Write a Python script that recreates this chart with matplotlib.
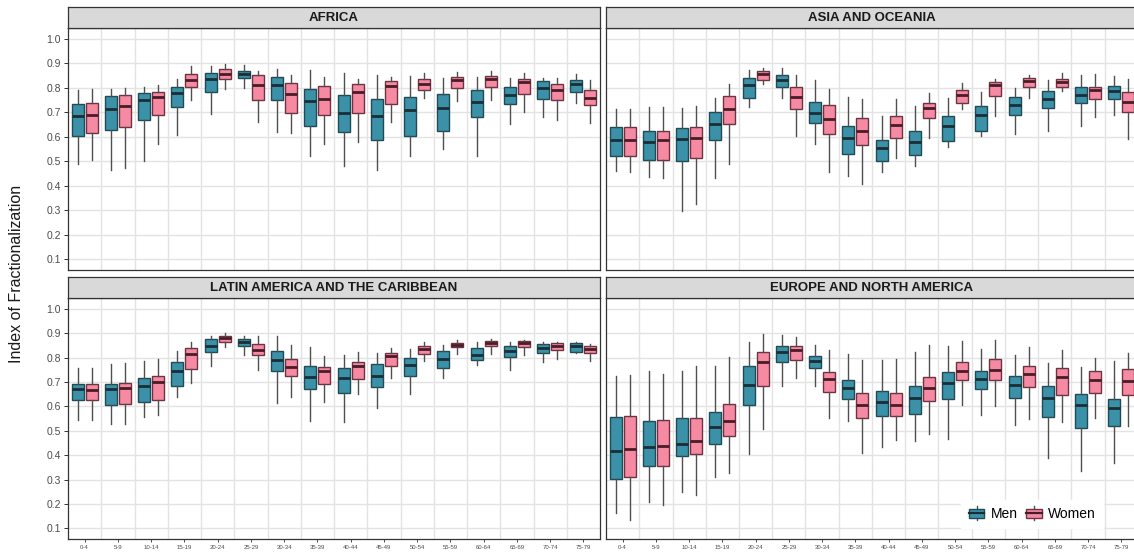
import numpy as np
import matplotlib
matplotlib.use("Agg")
import matplotlib.pyplot as plt
from matplotlib.patches import Rectangle
from matplotlib.lines import Line2D
from matplotlib.legend_handler import HandlerBase

plt.rcParams['font.family'] = ['Liberation Sans', 'DejaVu Sans']

ages = ['0-4', '5-9', '10-14', '15-19', '20-24', '25-29', '30-34', '35-39',
        '40-44', '45-49', '50-54', '55-59', '60-64', '65-69', '70-74', '75-79']
regions = ['AFRICA', 'ASIA AND OCEANIA',
           'LATIN AMERICA AND THE CARIBBEAN', 'EUROPE AND NORTH AMERICA']

# (lower whisker, Q1, median, Q3, upper whisker) for each age group
africa_men = [
    (0.489, 0.604, 0.683, 0.736, 0.791), (0.466, 0.629, 0.713, 0.767, 0.794),
    (0.499, 0.667, 0.751, 0.780, 0.805), (0.607, 0.722, 0.780, 0.802, 0.837),
    (0.695, 0.785, 0.837, 0.859, 0.889), (0.801, 0.840, 0.856, 0.869, 0.894),
    (0.618, 0.749, 0.810, 0.844, 0.878), (0.523, 0.644, 0.745, 0.797, 0.873),
    (0.482, 0.618, 0.699, 0.770, 0.862), (0.466, 0.588, 0.686, 0.756, 0.851),
    (0.520, 0.604, 0.710, 0.764, 0.848), (0.550, 0.622, 0.717, 0.774, 0.841),
    (0.523, 0.682, 0.744, 0.793, 0.846), (0.652, 0.736, 0.771, 0.805, 0.841),
    (0.680, 0.756, 0.801, 0.828, 0.841), (0.737, 0.785, 0.817, 0.832, 0.855)]
africa_women = [
    (0.505, 0.614, 0.690, 0.738, 0.794), (0.472, 0.642, 0.724, 0.771, 0.801),
    (0.570, 0.688, 0.763, 0.785, 0.813), (0.751, 0.802, 0.832, 0.856, 0.889),
    (0.797, 0.837, 0.855, 0.877, 0.897), (0.659, 0.751, 0.810, 0.852, 0.871),
    (0.614, 0.699, 0.774, 0.821, 0.852), (0.570, 0.688, 0.756, 0.808, 0.844),
    (0.580, 0.699, 0.783, 0.816, 0.835), (0.659, 0.736, 0.808, 0.828, 0.846),
    (0.757, 0.791, 0.817, 0.837, 0.859), (0.747, 0.798, 0.832, 0.844, 0.866),
    (0.749, 0.805, 0.835, 0.850, 0.869), (0.702, 0.775, 0.824, 0.837, 0.862),
    (0.669, 0.749, 0.790, 0.816, 0.841), (0.656, 0.732, 0.760, 0.790, 0.831)]

asia_men = [
    (0.462, 0.523, 0.588, 0.638, 0.713), (0.435, 0.503, 0.577, 0.622, 0.722),
    (0.297, 0.499, 0.591, 0.634, 0.718), (0.431, 0.588, 0.653, 0.702, 0.760),
    (0.722, 0.759, 0.812, 0.841, 0.875), (0.759, 0.805, 0.831, 0.852, 0.882),
    (0.569, 0.656, 0.696, 0.743, 0.832), (0.439, 0.528, 0.593, 0.645, 0.764),
    (0.455, 0.500, 0.554, 0.585, 0.683), (0.482, 0.526, 0.577, 0.625, 0.726),
    (0.560, 0.581, 0.645, 0.686, 0.757), (0.604, 0.623, 0.688, 0.724, 0.785),
    (0.611, 0.688, 0.729, 0.764, 0.799), (0.625, 0.717, 0.756, 0.787, 0.832),
    (0.645, 0.738, 0.772, 0.802, 0.854), (0.688, 0.753, 0.789, 0.808, 0.848)]
asia_women = [
    (0.455, 0.523, 0.588, 0.640, 0.713), (0.431, 0.503, 0.585, 0.625, 0.722),
    (0.324, 0.512, 0.593, 0.640, 0.726), (0.489, 0.653, 0.713, 0.767, 0.817),
    (0.816, 0.833, 0.855, 0.870, 0.882), (0.602, 0.715, 0.764, 0.802, 0.854),
    (0.455, 0.610, 0.672, 0.732, 0.794), (0.407, 0.566, 0.623, 0.675, 0.756),
    (0.512, 0.596, 0.650, 0.686, 0.753), (0.596, 0.675, 0.717, 0.740, 0.780),
    (0.713, 0.738, 0.771, 0.793, 0.821), (0.686, 0.767, 0.812, 0.825, 0.837),
    (0.759, 0.805, 0.828, 0.839, 0.852), (0.787, 0.804, 0.824, 0.835, 0.859),
    (0.680, 0.756, 0.790, 0.805, 0.856), (0.591, 0.703, 0.744, 0.783, 0.837)]

latam_men = [
    (0.545, 0.625, 0.670, 0.692, 0.758), (0.530, 0.605, 0.673, 0.692, 0.774),
    (0.555, 0.618, 0.686, 0.715, 0.788), (0.638, 0.685, 0.747, 0.782, 0.826),
    (0.764, 0.822, 0.848, 0.877, 0.890), (0.811, 0.847, 0.863, 0.878, 0.890),
    (0.616, 0.744, 0.790, 0.829, 0.888), (0.542, 0.671, 0.721, 0.767, 0.844),
    (0.538, 0.656, 0.715, 0.758, 0.812), (0.593, 0.678, 0.727, 0.774, 0.819),
    (0.651, 0.725, 0.771, 0.799, 0.837), (0.716, 0.756, 0.796, 0.826, 0.852),
    (0.770, 0.792, 0.810, 0.840, 0.863), (0.751, 0.803, 0.829, 0.847, 0.863),
    (0.782, 0.819, 0.838, 0.855, 0.866), (0.818, 0.823, 0.847, 0.860, 0.864)]
latam_women = [
    (0.545, 0.625, 0.666, 0.692, 0.758), (0.530, 0.610, 0.674, 0.695, 0.778),
    (0.566, 0.625, 0.699, 0.725, 0.795), (0.696, 0.753, 0.815, 0.840, 0.866),
    (0.842, 0.864, 0.879, 0.890, 0.901), (0.751, 0.811, 0.830, 0.856, 0.890),
    (0.638, 0.725, 0.762, 0.796, 0.852), (0.619, 0.692, 0.745, 0.762, 0.808),
    (0.652, 0.714, 0.767, 0.781, 0.823), (0.715, 0.768, 0.805, 0.819, 0.840),
    (0.785, 0.815, 0.837, 0.848, 0.863), (0.816, 0.842, 0.853, 0.862, 0.873),
    (0.814, 0.847, 0.860, 0.868, 0.877), (0.810, 0.842, 0.860, 0.867, 0.873),
    (0.796, 0.832, 0.848, 0.860, 0.864), (0.785, 0.818, 0.834, 0.847, 0.856)]

europe_men = [
    (0.164, 0.301, 0.419, 0.556, 0.726), (0.210, 0.356, 0.434, 0.541, 0.747),
    (0.249, 0.397, 0.447, 0.551, 0.747), (0.312, 0.448, 0.514, 0.577, 0.768),
    (0.405, 0.605, 0.688, 0.764, 0.866), (0.685, 0.784, 0.825, 0.847, 0.895),
    (0.685, 0.756, 0.786, 0.808, 0.852), (0.541, 0.629, 0.675, 0.710, 0.816),
    (0.434, 0.559, 0.619, 0.664, 0.790), (0.458, 0.570, 0.634, 0.685, 0.823),
    (0.468, 0.632, 0.695, 0.740, 0.848), (0.566, 0.673, 0.712, 0.747, 0.834),
    (0.522, 0.634, 0.689, 0.725, 0.812), (0.390, 0.556, 0.634, 0.684, 0.777),
    (0.334, 0.512, 0.604, 0.652, 0.763), (0.367, 0.521, 0.592, 0.632, 0.785)]
europe_women = [
    (0.134, 0.310, 0.425, 0.559, 0.729), (0.196, 0.356, 0.436, 0.545, 0.733),
    (0.237, 0.405, 0.460, 0.553, 0.767), (0.329, 0.479, 0.541, 0.611, 0.801),
    (0.507, 0.685, 0.784, 0.823, 0.899), (0.718, 0.792, 0.830, 0.847, 0.885),
    (0.552, 0.660, 0.712, 0.742, 0.830), (0.410, 0.552, 0.608, 0.656, 0.792),
    (0.462, 0.559, 0.605, 0.655, 0.795), (0.488, 0.621, 0.675, 0.721, 0.852),
    (0.604, 0.708, 0.747, 0.782, 0.870), (0.600, 0.708, 0.749, 0.793, 0.874),
    (0.548, 0.678, 0.734, 0.768, 0.845), (0.536, 0.645, 0.721, 0.756, 0.830),
    (0.551, 0.656, 0.710, 0.747, 0.799), (0.518, 0.649, 0.705, 0.752, 0.821)]

panel_data = [(africa_men, africa_women), (asia_men, asia_women),
              (latam_men, latam_women), (europe_men, europe_women)]

MEN_FILL, MEN_EDGE, MEN_MED = '#3b92a8', '#1f4a56', '#1b2e35'
WOMEN_FILL, WOMEN_EDGE, WOMEN_MED = '#f78aa3', '#6e3342', '#4a1c28'
WHISKER = '#4f4f4f'
FRAME = '#333333'

W, H = 1134, 553
fig = plt.figure(figsize=(W / 100, H / 100), dpi=100)


def px_rect(left, top, right, bottom):
    return [left / W, 1 - bottom / H, (right - left) / W, (bottom - top) / H]


# panel boxes in pixels: (left, strip_top, panel_top, right, panel_bottom)
layout = [(68, 7, 28, 600, 270), (606, 7, 28, 1138, 270),
          (68, 277, 298, 600, 539.3), (606, 277, 298, 1138, 539.3)]


def to_stats(rows):
    return [dict(whislo=r[0], q1=r[1], med=r[2], q3=r[3], whishi=r[4], fliers=[])
            for r in rows]


x = np.arange(len(ages))
axes = []
for k, (l, st, pt, r, pb) in enumerate(layout):
    ax = fig.add_axes(px_rect(l, pt, r, pb))
    axes.append(ax)
    men, women = panel_data[k]
    for rows, off, fc, ec, mc in [(men, -0.21, MEN_FILL, MEN_EDGE, MEN_MED),
                                  (women, 0.21, WOMEN_FILL, WOMEN_EDGE, WOMEN_MED)]:
        ax.bxp(to_stats(rows), positions=x + off, widths=0.36, patch_artist=True,
               showcaps=False, showfliers=False, manage_ticks=False,
               boxprops=dict(facecolor=fc, edgecolor=ec, linewidth=1.0),
               medianprops=dict(color=mc, linewidth=2.0, solid_capstyle='butt'),
               whiskerprops=dict(color=WHISKER, linewidth=1.0))

    ax.set_xlim(-0.5, 15.5)
    ax.set_ylim(0.055, 1.045)
    ax.set_yticks(np.arange(0.1, 1.01, 0.1))
    ax.set_xticks(x)
    ax.set_xticks(np.arange(0.5, 15, 1), minor=True)
    ax.set_axisbelow(True)
    ax.grid(axis='y', which='major', color='#e3e3e3', linewidth=1.0)
    ax.grid(axis='x', which='minor', color='#e3e3e3', linewidth=1.0)
    ax.tick_params(axis='x', which='minor', length=0)
    for s in ax.spines.values():
        s.set_color(FRAME)
        s.set_linewidth(0.9)

    if k % 2 == 0:
        ax.set_yticklabels(['%.1f' % v for v in np.arange(0.1, 1.01, 0.1)])
        ax.tick_params(axis='y', length=3, width=0.7, color=FRAME,
                       labelsize=7.5, labelcolor='#4d4d4d', pad=2)
    else:
        ax.tick_params(axis='y', length=0, labelleft=False)
    if k >= 2:
        ax.set_xticklabels(ages)
        ax.tick_params(axis='x', which='major', length=2, width=0.6, color=FRAME,
                       labelsize=4.3, labelcolor='#4d4d4d', pad=2)
    else:
        ax.tick_params(axis='x', which='major', length=0, labelbottom=False)

    # facet strip
    sax = fig.add_axes(px_rect(l, st, r, pt))
    sax.set_facecolor('#d9d9d9')
    sax.set_xticks([])
    sax.set_yticks([])
    for s in sax.spines.values():
        s.set_color(FRAME)
        s.set_linewidth(0.9)
    sax.text(0.5, 0.48, regions[k], ha='center', va='center', fontsize=9.5,
             fontweight='bold', color='#1a1a1a', transform=sax.transAxes)

fig.text(17 / W, 1 - 274 / H, 'Index of Fractionalization', rotation=90,
         ha='center', va='center', fontsize=11.5, color='#1a1a1a')


class BoxKey(HandlerBase):
    def __init__(self, fill, edge, med):
        super().__init__()
        self.fill, self.edge, self.med = fill, edge, med

    def create_artists(self, legend, orig_handle, xdescent, ydescent,
                       width, height, fontsize, trans):
        cx = width / 2 - xdescent
        bw = width * 0.95
        box = Rectangle((cx - bw / 2, -ydescent + height * 0.12), bw, height * 0.76,
                        facecolor=self.fill, edgecolor=self.edge, linewidth=1.0,
                        transform=trans)
        med = Line2D([cx - bw / 2, cx + bw / 2], [height / 2 - ydescent] * 2,
                     color=self.med, linewidth=1.6, transform=trans)
        w1 = Line2D([cx, cx], [-ydescent - height * 0.1, -ydescent + height * 0.12],
                    color=WHISKER, linewidth=1.0, transform=trans)
        w2 = Line2D([cx, cx], [-ydescent + height * 0.88, -ydescent + height * 1.1],
                    color=WHISKER, linewidth=1.0, transform=trans)
        return [w1, w2, box, med]


h_men = Rectangle((0, 0), 1, 1)
h_women = Rectangle((0, 0), 1, 1)
leg = axes[3].legend([h_men, h_women], ['Men', 'Women'], ncol=2,
                     handler_map={h_men: BoxKey(MEN_FILL, MEN_EDGE, MEN_MED),
                                  h_women: BoxKey(WOMEN_FILL, WOMEN_EDGE, WOMEN_MED)},
                     loc='center', bbox_to_anchor=(1032 / W, 1 - 514 / H),
                     bbox_transform=fig.transFigure, frameon=True, fontsize=10,
                     handlelength=1.2, handleheight=0.9, handletextpad=0.4,
                     columnspacing=0.6, borderpad=0.5, fancybox=False)
leg.get_frame().set_edgecolor('white')
leg.get_frame().set_facecolor('white')
leg.get_frame().set_alpha(1)

fig.savefig('out.png', dpi=100, facecolor='white')
